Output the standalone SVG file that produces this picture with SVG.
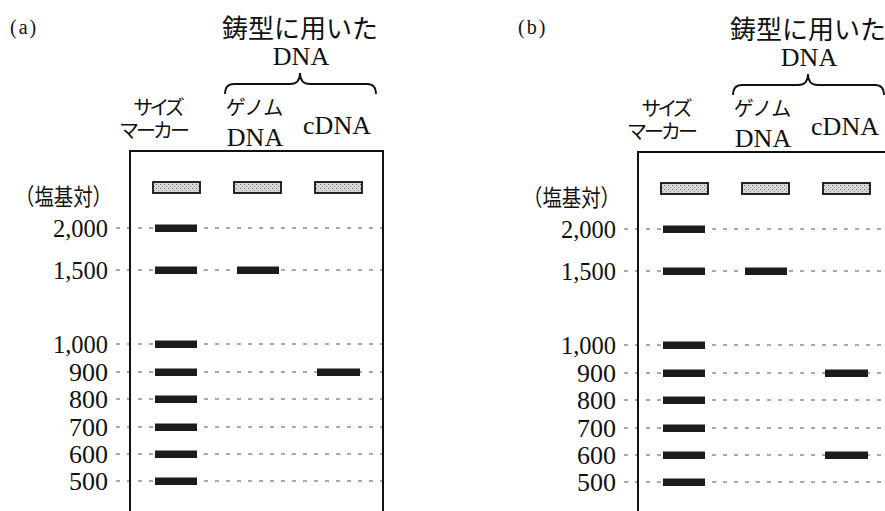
<svg xmlns="http://www.w3.org/2000/svg" width="885" height="511" viewBox="0 0 885 511">
<defs>
<pattern id="stip" width="4" height="4" patternUnits="userSpaceOnUse">
<rect width="4" height="4" fill="#d8d8d8"/>
<rect x="0" y="0" width="1" height="1" fill="#6a6a6a"/>
<rect x="2" y="2" width="1" height="1" fill="#8a8a8a"/>
</pattern>
<style>
.ser{font-family:"Liberation Serif","Noto Sans CJK JP",serif;fill:#111}
.jp{font-family:"Liberation Serif","Noto Sans CJK JP",serif;fill:#111}
.num{font-family:"Liberation Serif",serif;font-size:26px;fill:#111;text-anchor:end}
.mid{text-anchor:middle}
.well{fill:url(#stip);stroke:#111;stroke-width:1.8}
.band{fill:#1c1c1c}
.guide{stroke:#555;stroke-width:1.1;stroke-dasharray:4 7;fill:none}
.frame{stroke:#111;stroke-width:2;fill:none}
.brace{stroke:#111;stroke-width:1.8;fill:none}
</style>
</defs>
<rect width="885" height="511" fill="#fff"/>

<g id="panel-a">
  <g id="a-title"><text class="ser" x="10" y="34" font-size="20" letter-spacing="2">(a)</text></g>
  <g id="a-header">
    <text class="jp mid" x="300" y="38" font-size="26">鋳型に用いた</text>
    <text class="ser mid" x="301" y="65" font-size="26">DNA</text>
    <path class="brace" d="M225,94 Q225,84 234,84 L290,84 Q300,84 300,73 Q300,84 310,84 L367,84 Q376,84 376,94"/>
  </g>
  <g id="a-lane-labels">
    <text class="jp mid" x="157" y="115" font-size="20" letter-spacing="-4">サイズ</text>
    <text class="jp mid" x="153" y="138" font-size="20" letter-spacing="-3">マーカー</text>
    <text class="jp mid" x="254" y="115" font-size="20" letter-spacing="-1">ゲノム</text>
    <text class="ser mid" x="255" y="146" font-size="26">DNA</text>
    <text class="ser mid" x="337" y="134" font-size="26">cDNA</text>
  </g>
  <g id="a-axis">
    <text class="jp" x="15" y="205" font-size="23" textLength="97" lengthAdjust="spacingAndGlyphs">（塩基対）</text>
    <text class="num" x="108" y="237" textLength="55" lengthAdjust="spacingAndGlyphs">2,000</text>
    <text class="num" x="108" y="279" textLength="55" lengthAdjust="spacingAndGlyphs">1,500</text>
    <text class="num" x="108" y="353" textLength="55" lengthAdjust="spacingAndGlyphs">1,000</text>
    <text class="num" x="108" y="381">900</text>
    <text class="num" x="108" y="408">800</text>
    <text class="num" x="108" y="436">700</text>
    <text class="num" x="108" y="463">600</text>
    <text class="num" x="108" y="490">500</text>
  </g>
  <g id="a-guides">
    <line class="guide" x1="116" y1="228" x2="383" y2="228"/>
    <line class="guide" x1="116" y1="270" x2="383" y2="270"/>
    <line class="guide" x1="116" y1="344" x2="383" y2="344"/>
    <line class="guide" x1="116" y1="372" x2="383" y2="372"/>
    <line class="guide" x1="116" y1="399" x2="383" y2="399"/>
    <line class="guide" x1="116" y1="427" x2="383" y2="427"/>
    <line class="guide" x1="116" y1="454" x2="383" y2="454"/>
    <line class="guide" x1="116" y1="481" x2="383" y2="481"/>
  </g>
  <g id="a-gel">
    <path class="frame" d="M130,520 L130,151 L383,151 L383,520"/>
  </g>
  <g id="a-wells">
    <rect class="well" x="153" y="182" width="47" height="11"/>
    <rect class="well" x="234" y="182" width="47" height="11"/>
    <rect class="well" x="315" y="182" width="47" height="11"/>
  </g>
  <g id="a-marker-bands">
    <rect class="band" x="155" y="224.5" width="42" height="7.5"/>
    <rect class="band" x="155" y="266.5" width="42" height="7.5"/>
    <rect class="band" x="155" y="340.5" width="42" height="7.5"/>
    <rect class="band" x="155" y="368.5" width="42" height="7.5"/>
    <rect class="band" x="155" y="395.5" width="42" height="7.5"/>
    <rect class="band" x="155" y="423.5" width="42" height="7.5"/>
    <rect class="band" x="155" y="450.5" width="42" height="7.5"/>
    <rect class="band" x="155" y="477.5" width="42" height="7.5"/>
  </g>
  <g id="a-genomic-bands">
    <rect class="band" x="237" y="266.5" width="42" height="7.5"/>
  </g>
  <g id="a-cdna-bands">
    <rect class="band" x="317" y="368.5" width="43" height="7.5"/>
  </g>
</g>

<g id="panel-b" transform="translate(508,1)">
  <g id="b-title"><text class="ser" x="10" y="33" font-size="20" letter-spacing="2">(b)</text></g>
  <g id="b-header">
    <text class="jp mid" x="300" y="38" font-size="26">鋳型に用いた</text>
    <text class="ser mid" x="301" y="65" font-size="26">DNA</text>
    <path class="brace" d="M225,94 Q225,84 234,84 L290,84 Q300,84 300,73 Q300,84 310,84 L367,84 Q376,84 376,94"/>
  </g>
  <g id="b-lane-labels">
    <text class="jp mid" x="157" y="115" font-size="20" letter-spacing="-4">サイズ</text>
    <text class="jp mid" x="153" y="138" font-size="20" letter-spacing="-3">マーカー</text>
    <text class="jp mid" x="254" y="115" font-size="20" letter-spacing="-1">ゲノム</text>
    <text class="ser mid" x="255" y="146" font-size="26">DNA</text>
    <text class="ser mid" x="337" y="134" font-size="26">cDNA</text>
  </g>
  <g id="b-axis">
    <text class="jp" x="15" y="205" font-size="23" textLength="97" lengthAdjust="spacingAndGlyphs">（塩基対）</text>
    <text class="num" x="108" y="237" textLength="55" lengthAdjust="spacingAndGlyphs">2,000</text>
    <text class="num" x="108" y="279" textLength="55" lengthAdjust="spacingAndGlyphs">1,500</text>
    <text class="num" x="108" y="353" textLength="55" lengthAdjust="spacingAndGlyphs">1,000</text>
    <text class="num" x="108" y="381">900</text>
    <text class="num" x="108" y="408">800</text>
    <text class="num" x="108" y="436">700</text>
    <text class="num" x="108" y="463">600</text>
    <text class="num" x="108" y="490">500</text>
  </g>
  <g id="b-guides">
    <line class="guide" x1="116" y1="228" x2="383" y2="228"/>
    <line class="guide" x1="116" y1="270" x2="383" y2="270"/>
    <line class="guide" x1="116" y1="344" x2="383" y2="344"/>
    <line class="guide" x1="116" y1="372" x2="383" y2="372"/>
    <line class="guide" x1="116" y1="399" x2="383" y2="399"/>
    <line class="guide" x1="116" y1="427" x2="383" y2="427"/>
    <line class="guide" x1="116" y1="454" x2="383" y2="454"/>
    <line class="guide" x1="116" y1="481" x2="383" y2="481"/>
  </g>
  <g id="b-gel">
    <path class="frame" d="M130,520 L130,151 L383,151 L383,520"/>
  </g>
  <g id="b-wells">
    <rect class="well" x="153" y="182" width="47" height="11"/>
    <rect class="well" x="234" y="182" width="47" height="11"/>
    <rect class="well" x="315" y="182" width="47" height="11"/>
  </g>
  <g id="b-marker-bands">
    <rect class="band" x="155" y="224.5" width="42" height="7.5"/>
    <rect class="band" x="155" y="266.5" width="42" height="7.5"/>
    <rect class="band" x="155" y="340.5" width="42" height="7.5"/>
    <rect class="band" x="155" y="368.5" width="42" height="7.5"/>
    <rect class="band" x="155" y="395.5" width="42" height="7.5"/>
    <rect class="band" x="155" y="423.5" width="42" height="7.5"/>
    <rect class="band" x="155" y="450.5" width="42" height="7.5"/>
    <rect class="band" x="155" y="477.5" width="42" height="7.5"/>
  </g>
  <g id="b-genomic-bands">
    <rect class="band" x="237" y="266.5" width="42" height="7.5"/>
  </g>
  <g id="b-cdna-bands">
    <rect class="band" x="317" y="368.5" width="43" height="7.5"/>
    <rect class="band" x="317" y="450.5" width="43" height="7.5"/>
  </g>
</g>
</svg>
